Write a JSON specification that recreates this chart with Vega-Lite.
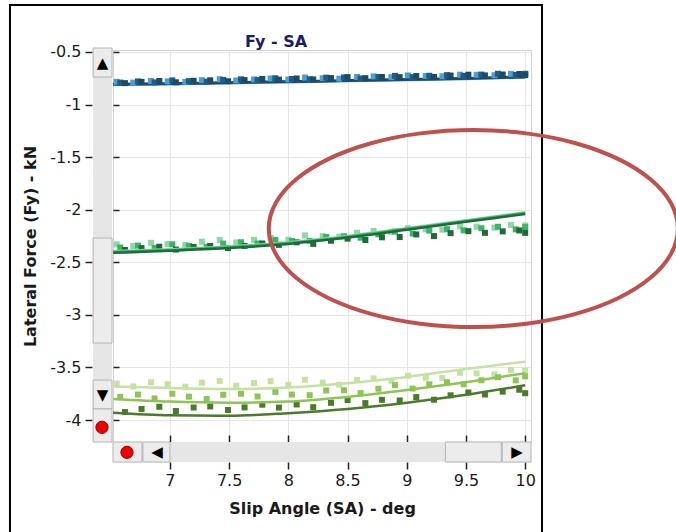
{
"$schema": "https://vega.github.io/schema/vega-lite/v6.json",
"width": 418, "height": 392,
"autosize": {"type": "none"},
"padding": {"left": 113, "top": 50, "right": 145, "bottom": 90},
"background": "white",
"config": {
  "font": "DejaVu Sans",
  "view": {"stroke": "#d4d4d4"},
  "axis": {"gridColor": "#e6e6e6", "gridWidth": 1, "domain": false, "tickColor": "#222222", "tickWidth": 1.5, "labelColor": "#1a1a1a", "labelFont": "DejaVu Sans", "labelFontSize": 16, "titleFont": "DejaVu Sans", "titleFontSize": 16, "titleFontWeight": "bold", "titleColor": "#1a1a1a"}
},
"title": {"text": "Fy - SA", "frame": "group", "fontSize": 16, "fontWeight": "bold", "color": "#1c1c6e", "anchor": "middle", "dx": -46, "offset": -46, "font": "DejaVu Sans"},
"resolve": {"axis": {"x": "independent", "y": "independent"}},
"datasets": {
  "frame": [{"x": 5.649, "x2": 10.142, "y": -0.053, "y2": -5.6}],
  "track": [
    {"x": 6.351, "x2": 6.511, "y": -0.481, "y2": -4.209},
    {"x": 6.519, "x2": 10.049, "y": -4.209, "y2": -4.400}
  ],
  "buttons": [
    {"x": 6.351, "x2": 6.511, "y": -0.462, "y2": -0.738},
    {"x": 6.351, "x2": 6.511, "y": -2.269, "y2": -3.268},
    {"x": 6.351, "x2": 6.511, "y": -3.620, "y2": -3.895},
    {"x": 6.351, "x2": 6.511, "y": -3.895, "y2": -4.209},
    {"x": 6.519, "x2": 6.764, "y": -4.209, "y2": -4.400},
    {"x": 6.772, "x2": 7.0, "y": -4.209, "y2": -4.400},
    {"x": 9.326, "x2": 9.798, "y": -4.209, "y2": -4.400},
    {"x": 9.806, "x2": 10.049, "y": -4.209, "y2": -4.400}
  ],
  "glyphs": [
    {"x": 6.431, "y": -0.605, "t": "▲"},
    {"x": 6.431, "y": -3.762, "t": "▼"},
    {"x": 6.89, "y": -4.305, "t": "◀"},
    {"x": 9.93, "y": -4.305, "t": "▶"}
  ],
  "dots": [{"x": 6.426, "y": -4.069}, {"x": 6.637, "y": -4.307}],
  "pts": [
    {"s":"B1","x":6.55,"y":-0.784},{"s":"B1","x":6.69,"y":-0.791},{"s":"B1","x":6.84,"y":-0.776},{"s":"B1","x":6.98,"y":-0.779},{"s":"B1","x":7.13,"y":-0.784},{"s":"B1","x":7.27,"y":-0.768},{"s":"B1","x":7.42,"y":-0.759},{"s":"B1","x":7.56,"y":-0.771},{"s":"B1","x":7.71,"y":-0.761},{"s":"B1","x":7.85,"y":-0.752},{"s":"B1","x":8.0,"y":-0.761},{"s":"B1","x":8.14,"y":-0.743},{"s":"B1","x":8.29,"y":-0.749},{"s":"B1","x":8.43,"y":-0.754},{"s":"B1","x":8.58,"y":-0.738},{"s":"B1","x":8.72,"y":-0.732},{"s":"B1","x":8.87,"y":-0.739},{"s":"B1","x":9.01,"y":-0.723},{"s":"B1","x":9.16,"y":-0.729},{"s":"B1","x":9.3,"y":-0.731},{"s":"B1","x":9.45,"y":-0.716},{"s":"B1","x":9.59,"y":-0.717},{"s":"B1","x":9.74,"y":-0.721},{"s":"B1","x":9.88,"y":-0.708},{"s":"B1","x":10.0,"y":-0.71},
    {"s":"B2","x":6.58,"y":-0.791},{"s":"B2","x":6.73,"y":-0.78},{"s":"B2","x":6.87,"y":-0.789},{"s":"B2","x":7.02,"y":-0.77},{"s":"B2","x":7.16,"y":-0.777},{"s":"B2","x":7.31,"y":-0.782},{"s":"B2","x":7.45,"y":-0.766},{"s":"B2","x":7.6,"y":-0.76},{"s":"B2","x":7.74,"y":-0.767},{"s":"B2","x":7.89,"y":-0.75},{"s":"B2","x":8.03,"y":-0.757},{"s":"B2","x":8.18,"y":-0.759},{"s":"B2","x":8.32,"y":-0.744},{"s":"B2","x":8.47,"y":-0.742},{"s":"B2","x":8.61,"y":-0.752},{"s":"B2","x":8.76,"y":-0.738},{"s":"B2","x":8.9,"y":-0.727},{"s":"B2","x":9.05,"y":-0.739},{"s":"B2","x":9.19,"y":-0.726},{"s":"B2","x":9.34,"y":-0.72},{"s":"B2","x":9.48,"y":-0.727},{"s":"B2","x":9.63,"y":-0.715},{"s":"B2","x":9.77,"y":-0.707},{"s":"B2","x":9.92,"y":-0.719},{"s":"B2","x":10.0,"y":-0.707},
    {"s":"B3","x":6.62,"y":-0.796},{"s":"B3","x":6.76,"y":-0.784},{"s":"B3","x":6.91,"y":-0.776},{"s":"B3","x":7.05,"y":-0.788},{"s":"B3","x":7.2,"y":-0.774},{"s":"B3","x":7.34,"y":-0.769},{"s":"B3","x":7.49,"y":-0.778},{"s":"B3","x":7.63,"y":-0.767},{"s":"B3","x":7.78,"y":-0.756},{"s":"B3","x":7.92,"y":-0.763},{"s":"B3","x":8.07,"y":-0.752},{"s":"B3","x":8.21,"y":-0.761},{"s":"B3","x":8.36,"y":-0.748},{"s":"B3","x":8.5,"y":-0.739},{"s":"B3","x":8.65,"y":-0.749},{"s":"B3","x":8.79,"y":-0.738},{"s":"B3","x":8.94,"y":-0.739},{"s":"B3","x":9.08,"y":-0.729},{"s":"B3","x":9.23,"y":-0.738},{"s":"B3","x":9.37,"y":-0.724},{"s":"B3","x":9.52,"y":-0.716},{"s":"B3","x":9.66,"y":-0.723},{"s":"B3","x":9.81,"y":-0.714},{"s":"B3","x":9.95,"y":-0.709},{"s":"B3","x":10.0,"y":-0.72},
    {"s":"G1","x":6.55,"y":-2.329},{"s":"G1","x":6.69,"y":-2.345},{"s":"G1","x":6.84,"y":-2.315},{"s":"G1","x":6.98,"y":-2.326},{"s":"G1","x":7.13,"y":-2.335},{"s":"G1","x":7.27,"y":-2.304},{"s":"G1","x":7.42,"y":-2.288},{"s":"G1","x":7.56,"y":-2.311},{"s":"G1","x":7.71,"y":-2.287},{"s":"G1","x":7.85,"y":-2.269},{"s":"G1","x":8.0,"y":-2.285},{"s":"G1","x":8.14,"y":-2.244},{"s":"G1","x":8.29,"y":-2.252},{"s":"G1","x":8.43,"y":-2.256},{"s":"G1","x":8.58,"y":-2.219},{"s":"G1","x":8.72,"y":-2.202},{"s":"G1","x":8.87,"y":-2.21},{"s":"G1","x":9.01,"y":-2.175},{"s":"G1","x":9.16,"y":-2.187},{"s":"G1","x":9.3,"y":-2.19},{"s":"G1","x":9.45,"y":-2.158},{"s":"G1","x":9.59,"y":-2.161},{"s":"G1","x":9.74,"y":-2.17},{"s":"G1","x":9.88,"y":-2.145},{"s":"G1","x":10.0,"y":-2.15},
    {"s":"G2","x":6.58,"y":-2.359},{"s":"G2","x":6.73,"y":-2.341},{"s":"G2","x":6.87,"y":-2.363},{"s":"G2","x":7.02,"y":-2.329},{"s":"G2","x":7.16,"y":-2.344},{"s":"G2","x":7.31,"y":-2.353},{"s":"G2","x":7.45,"y":-2.322},{"s":"G2","x":7.6,"y":-2.309},{"s":"G2","x":7.74,"y":-2.321},{"s":"G2","x":7.89,"y":-2.287},{"s":"G2","x":8.03,"y":-2.298},{"s":"G2","x":8.18,"y":-2.296},{"s":"G2","x":8.32,"y":-2.259},{"s":"G2","x":8.47,"y":-2.252},{"s":"G2","x":8.61,"y":-2.266},{"s":"G2","x":8.76,"y":-2.234},{"s":"G2","x":8.9,"y":-2.208},{"s":"G2","x":9.05,"y":-2.227},{"s":"G2","x":9.19,"y":-2.199},{"s":"G2","x":9.34,"y":-2.185},{"s":"G2","x":9.48,"y":-2.196},{"s":"G2","x":9.63,"y":-2.176},{"s":"G2","x":9.77,"y":-2.162},{"s":"G2","x":9.92,"y":-2.187},{"s":"G2","x":10.0,"y":-2.165},
    {"s":"G3","x":6.62,"y":-2.383},{"s":"G3","x":6.76,"y":-2.365},{"s":"G3","x":6.91,"y":-2.352},{"s":"G3","x":7.05,"y":-2.379},{"s":"G3","x":7.2,"y":-2.354},{"s":"G3","x":7.34,"y":-2.345},{"s":"G3","x":7.49,"y":-2.365},{"s":"G3","x":7.63,"y":-2.344},{"s":"G3","x":7.78,"y":-2.321},{"s":"G3","x":7.92,"y":-2.334},{"s":"G3","x":8.07,"y":-2.31},{"s":"G3","x":8.21,"y":-2.325},{"s":"G3","x":8.36,"y":-2.295},{"s":"G3","x":8.5,"y":-2.275},{"s":"G3","x":8.65,"y":-2.288},{"s":"G3","x":8.79,"y":-2.262},{"s":"G3","x":8.94,"y":-2.26},{"s":"G3","x":9.08,"y":-2.235},{"s":"G3","x":9.23,"y":-2.251},{"s":"G3","x":9.37,"y":-2.223},{"s":"G3","x":9.52,"y":-2.204},{"s":"G3","x":9.66,"y":-2.22},{"s":"G3","x":9.81,"y":-2.206},{"s":"G3","x":9.95,"y":-2.197},{"s":"G3","x":10.0,"y":-2.22},
    {"s":"Y1","x":6.55,"y":-3.654},{"s":"Y1","x":6.69,"y":-3.681},{"s":"Y1","x":6.84,"y":-3.641},{"s":"Y1","x":6.98,"y":-3.66},{"s":"Y1","x":7.13,"y":-3.683},{"s":"Y1","x":7.27,"y":-3.645},{"s":"Y1","x":7.42,"y":-3.63},{"s":"Y1","x":7.56,"y":-3.674},{"s":"Y1","x":7.71,"y":-3.649},{"s":"Y1","x":7.85,"y":-3.631},{"s":"Y1","x":8.0,"y":-3.665},{"s":"Y1","x":8.14,"y":-3.617},{"s":"Y1","x":8.29,"y":-3.644},{"s":"Y1","x":8.43,"y":-3.664},{"s":"Y1","x":8.58,"y":-3.62},{"s":"Y1","x":8.72,"y":-3.604},{"s":"Y1","x":8.87,"y":-3.626},{"s":"Y1","x":9.01,"y":-3.579},{"s":"Y1","x":9.16,"y":-3.597},{"s":"Y1","x":9.3,"y":-3.601},{"s":"Y1","x":9.45,"y":-3.552},{"s":"Y1","x":9.59,"y":-3.556},{"s":"Y1","x":9.74,"y":-3.566},{"s":"Y1","x":9.88,"y":-3.525},{"s":"Y1","x":10.0,"y":-3.53},
    {"s":"Y2","x":6.58,"y":-3.78},{"s":"Y2","x":6.73,"y":-3.758},{"s":"Y2","x":6.87,"y":-3.795},{"s":"Y2","x":7.02,"y":-3.75},{"s":"Y2","x":7.16,"y":-3.778},{"s":"Y2","x":7.31,"y":-3.8},{"s":"Y2","x":7.45,"y":-3.76},{"s":"Y2","x":7.6,"y":-3.75},{"s":"Y2","x":7.74,"y":-3.776},{"s":"Y2","x":7.89,"y":-3.733},{"s":"Y2","x":8.03,"y":-3.758},{"s":"Y2","x":8.18,"y":-3.764},{"s":"Y2","x":8.32,"y":-3.719},{"s":"Y2","x":8.47,"y":-3.717},{"s":"Y2","x":8.61,"y":-3.744},{"s":"Y2","x":8.76,"y":-3.702},{"s":"Y2","x":8.9,"y":-3.668},{"s":"Y2","x":9.05,"y":-3.701},{"s":"Y2","x":9.19,"y":-3.66},{"s":"Y2","x":9.34,"y":-3.641},{"s":"Y2","x":9.48,"y":-3.66},{"s":"Y2","x":9.63,"y":-3.622},{"s":"Y2","x":9.77,"y":-3.593},{"s":"Y2","x":9.92,"y":-3.623},{"s":"Y2","x":10.0,"y":-3.585},
    {"s":"Y3","x":6.62,"y":-3.924},{"s":"Y3","x":6.76,"y":-3.895},{"s":"Y3","x":6.91,"y":-3.874},{"s":"Y3","x":7.05,"y":-3.914},{"s":"Y3","x":7.2,"y":-3.881},{"s":"Y3","x":7.34,"y":-3.871},{"s":"Y3","x":7.49,"y":-3.905},{"s":"Y3","x":7.63,"y":-3.88},{"s":"Y3","x":7.78,"y":-3.854},{"s":"Y3","x":7.92,"y":-3.882},{"s":"Y3","x":8.07,"y":-3.852},{"s":"Y3","x":8.21,"y":-3.878},{"s":"Y3","x":8.36,"y":-3.836},{"s":"Y3","x":8.5,"y":-3.81},{"s":"Y3","x":8.65,"y":-3.839},{"s":"Y3","x":8.79,"y":-3.808},{"s":"Y3","x":8.94,"y":-3.814},{"s":"Y3","x":9.08,"y":-3.782},{"s":"Y3","x":9.23,"y":-3.807},{"s":"Y3","x":9.37,"y":-3.765},{"s":"Y3","x":9.52,"y":-3.738},{"s":"Y3","x":9.66,"y":-3.757},{"s":"Y3","x":9.81,"y":-3.73},{"s":"Y3","x":9.95,"y":-3.712},{"s":"Y3","x":10.0,"y":-3.745}
  ],
  "lines": [
    {"s":"B1","x":6.52,"y":-0.812},{"s":"B1","x":7,"y":-0.807},{"s":"B1","x":7.5,"y":-0.797},{"s":"B1","x":8,"y":-0.787},{"s":"B1","x":8.5,"y":-0.777},{"s":"B1","x":9,"y":-0.767},{"s":"B1","x":9.5,"y":-0.757},{"s":"B1","x":10,"y":-0.742},
    {"s":"B2","x":6.52,"y":-0.808},{"s":"B2","x":7,"y":-0.803},{"s":"B2","x":7.5,"y":-0.793},{"s":"B2","x":8,"y":-0.783},{"s":"B2","x":8.5,"y":-0.773},{"s":"B2","x":9,"y":-0.763},{"s":"B2","x":9.5,"y":-0.753},{"s":"B2","x":10,"y":-0.738},
    {"s":"B3","x":6.52,"y":-0.805},{"s":"B3","x":7,"y":-0.8},{"s":"B3","x":7.5,"y":-0.79},{"s":"B3","x":8,"y":-0.78},{"s":"B3","x":8.5,"y":-0.77},{"s":"B3","x":9,"y":-0.76},{"s":"B3","x":9.5,"y":-0.75},{"s":"B3","x":10,"y":-0.735},
    {"s":"G1","x":6.52,"y":-2.395},{"s":"G1","x":7,"y":-2.375},{"s":"G1","x":7.5,"y":-2.35},{"s":"G1","x":8,"y":-2.31},{"s":"G1","x":8.5,"y":-2.25},{"s":"G1","x":9,"y":-2.175},{"s":"G1","x":9.5,"y":-2.1},{"s":"G1","x":10,"y":-2.025},
    {"s":"G2","x":6.52,"y":-2.402},{"s":"G2","x":7,"y":-2.382},{"s":"G2","x":7.5,"y":-2.357},{"s":"G2","x":8,"y":-2.317},{"s":"G2","x":8.5,"y":-2.257},{"s":"G2","x":9,"y":-2.182},{"s":"G2","x":9.5,"y":-2.107},{"s":"G2","x":10,"y":-2.032},
    {"s":"G3","x":6.52,"y":-2.41},{"s":"G3","x":7,"y":-2.39},{"s":"G3","x":7.5,"y":-2.365},{"s":"G3","x":8,"y":-2.325},{"s":"G3","x":8.5,"y":-2.265},{"s":"G3","x":9,"y":-2.19},{"s":"G3","x":9.5,"y":-2.115},{"s":"G3","x":10,"y":-2.04},
    {"s":"Y1","x":6.52,"y":-3.68},{"s":"Y1","x":7,"y":-3.695},{"s":"Y1","x":7.5,"y":-3.705},{"s":"Y1","x":8,"y":-3.69},{"s":"Y1","x":8.5,"y":-3.65},{"s":"Y1","x":9,"y":-3.59},{"s":"Y1","x":9.5,"y":-3.515},{"s":"Y1","x":10,"y":-3.445},
    {"s":"Y2","x":6.52,"y":-3.8},{"s":"Y2","x":7,"y":-3.825},{"s":"Y2","x":7.5,"y":-3.835},{"s":"Y2","x":8,"y":-3.825},{"s":"Y2","x":8.5,"y":-3.78},{"s":"Y2","x":9,"y":-3.715},{"s":"Y2","x":9.5,"y":-3.64},{"s":"Y2","x":10,"y":-3.555},
    {"s":"Y3","x":6.52,"y":-3.93},{"s":"Y3","x":7,"y":-3.955},{"s":"Y3","x":7.5,"y":-3.96},{"s":"Y3","x":8,"y":-3.935},{"s":"Y3","x":8.5,"y":-3.895},{"s":"Y3","x":9,"y":-3.835},{"s":"Y3","x":9.5,"y":-3.76},{"s":"Y3","x":10,"y":-3.67}
  ],
  "ellipse": [
    {"o":0,"x":11.2895,"y":-2.179},{"o":1,"x":11.2306,"y":-1.9365},{"o":2,"x":11.058,"y":-1.7105},{"o":3,"x":10.7835,"y":-1.5164},{"o":4,"x":10.4258,"y":-1.3676},{"o":5,"x":10.0091,"y":-1.2739},{"o":6,"x":9.562,"y":-1.242},{"o":7,"x":9.1149,"y":-1.2739},{"o":8,"x":8.6982,"y":-1.3676},{"o":9,"x":8.3405,"y":-1.5164},{"o":10,"x":8.066,"y":-1.7105},{"o":11,"x":7.8934,"y":-1.9365},{"o":12,"x":7.8345,"y":-2.179},{"o":13,"x":7.8934,"y":-2.4215},{"o":14,"x":8.066,"y":-2.6475},{"o":15,"x":8.3405,"y":-2.8416},{"o":16,"x":8.6982,"y":-2.9904},{"o":17,"x":9.1149,"y":-3.0841},{"o":18,"x":9.562,"y":-3.116},{"o":19,"x":10.0091,"y":-3.0841},{"o":20,"x":10.4258,"y":-2.9904},{"o":21,"x":10.7835,"y":-2.8416},{"o":22,"x":11.058,"y":-2.6475},{"o":23,"x":11.2306,"y":-2.4215}
  ]
},
"encoding": {
  "x": {"field": "x", "type": "quantitative", "scale": {"domain": [6.519, 10.049], "nice": false, "zero": false}, "axis": null},
  "y": {"field": "y", "type": "quantitative", "scale": {"domain": [-4.209, -0.481], "nice": false, "zero": false}, "axis": null}
},
"layer": [
  {"data": {"name": "frame"}, "mark": {"type": "rect", "fill": "transparent", "stroke": "#000000", "strokeWidth": 2, "clip": false},
   "encoding": {
     "x": {"field": "x", "type": "quantitative", "scale": {"domain": [6.519, 10.049], "nice": false, "zero": false},
        "axis": {"title": "Slip Angle (SA) - deg", "orient": "bottom", "values": [7, 7.5, 8, 8.5, 9, 9.5, 10], "labelExpr": "'' + datum.value", "offset": 20, "tickSize": 7, "labelPadding": 3, "titlePadding": 12, "labelFlush": false}},
     "y": {"field": "y", "type": "quantitative", "scale": {"domain": [-4.209, -0.481], "nice": false, "zero": false},
        "axis": {"title": "Lateral Force (Fy) - kN", "orient": "left", "values": [-0.5, -1, -1.5, -2, -2.5, -3, -3.5, -4], "labelExpr": "'' + datum.value", "offset": 21, "tickSize": 7, "labelPadding": 4, "titlePadding": 11, "labelFlush": false}},
     "x2": {"field": "x2"}, "y2": {"field": "y2"}}},
  {"data": {"name": "track"}, "mark": {"type": "rect", "fill": "#e6e6e6", "clip": false},
   "encoding": {"x2": {"field": "x2"}, "y2": {"field": "y2"}}},
  {"data": {"name": "buttons"}, "mark": {"type": "rect", "fill": "#ececec", "stroke": "#b4b4b4", "strokeWidth": 1, "clip": false},
   "encoding": {"x2": {"field": "x2"}, "y2": {"field": "y2"}}},
  {"data": {"name": "glyphs"}, "mark": {"type": "text", "fontSize": 15, "color": "#000000", "align": "center", "baseline": "middle", "font": "DejaVu Sans", "clip": false},
   "encoding": {"text": {"field": "t"}}},
  {"data": {"name": "dots"}, "mark": {"type": "point", "shape": "circle", "filled": true, "size": 150, "color": "#f00000", "stroke": "#8a0000", "strokeWidth": 1, "opacity": 1, "clip": false},
   "encoding": {}},
  {"data": {"name": "lines"}, "transform": [{"filter": "datum.s[0] == 'B'"}], "mark": {"type": "line", "strokeWidth": 2.5, "interpolate": "monotone"},
   "encoding": {"color": {"field": "s", "type": "nominal", "legend": null}}},
  {"data": {"name": "pts"}, "mark": {"type": "point", "shape": "square", "filled": true, "size": 36, "opacity": 1},
   "encoding": {"color": {"field": "s", "type": "nominal", "legend": null,
     "scale": {"domain": ["B1","B2","B3","G1","G2","G3","Y1","Y2","Y3"], "range": ["#4aa0d6","#245b80","#1d4a66","#8fd8a5","#3cb369","#1d6b3a","#c4e3a2","#8dc455","#4a7a2a"]}}}},
  {"data": {"name": "lines"}, "transform": [{"filter": "datum.s[0] != 'B'"}], "mark": {"type": "line", "strokeWidth": 2.5, "interpolate": "monotone"},
   "encoding": {
     "x": {"field": "x", "type": "quantitative", "scale": {"domain": [6.519, 10.049], "nice": false, "zero": false},
        "axis": {"title": null, "orient": "bottom", "values": [7, 7.5, 8, 8.5, 9, 9.5, 10], "labels": false, "grid": false, "offset": 0, "tickSize": -7}},
     "y": {"field": "y", "type": "quantitative", "scale": {"domain": [-4.209, -0.481], "nice": false, "zero": false},
        "axis": {"title": null, "orient": "left", "values": [-0.5, -1, -1.5, -2, -2.5, -3, -3.5, -4], "labels": false, "grid": false, "offset": 0, "tickSize": -6}},
     "color": {"field": "s", "type": "nominal", "legend": null}}},
  {"data": {"name": "ellipse"}, "mark": {"type": "line", "color": "#c0504d", "strokeWidth": 4, "interpolate": "cardinal-closed", "clip": false},
   "encoding": {"order": {"field": "o", "type": "quantitative"}}}
]
}
